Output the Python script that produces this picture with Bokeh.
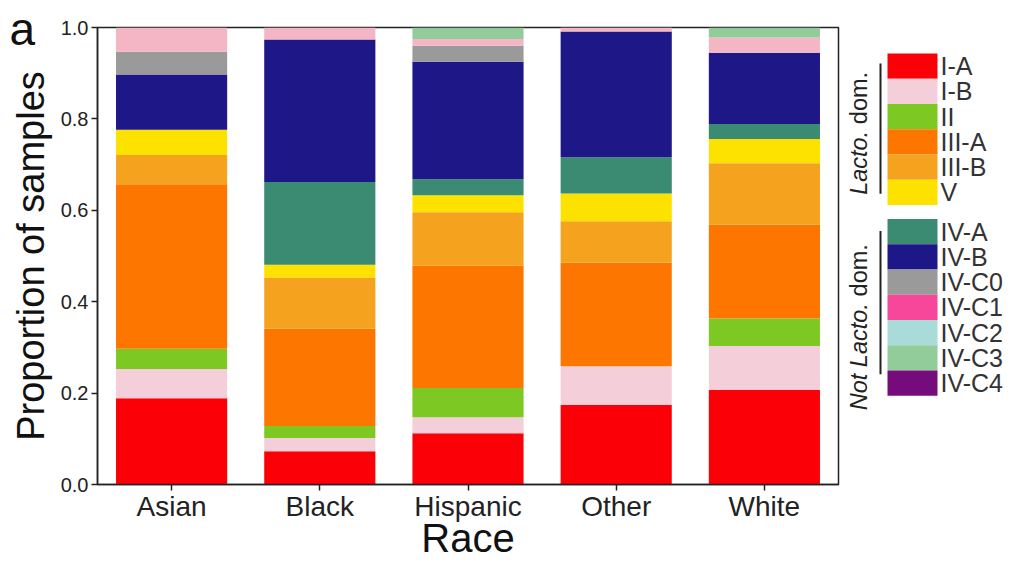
import math
from bokeh.plotting import figure
from bokeh.models import (ColumnDataSource, FactorRange, Range1d, FixedTicker,
                          NumeralTickFormatter, Title)
from bokeh.layouts import row
from bokeh.core.properties import value
from bokeh.embed import file_html
from bokeh.resources import INLINE

# ---------------- data ----------------
races = ["Asian", "Black", "Hispanic", "Other", "White"]
cst_types = ["I-A", "I-B", "II", "III-A", "III-B", "V",
             "IV-A", "IV-B", "IV-C0", "IV-C1", "IV-C2", "IV-C3", "IV-C4"]
lacto_types = ["I-A", "I-B", "II", "III-A", "III-B", "V"]
not_lacto_types = ["IV-A", "IV-B", "IV-C0", "IV-C1", "IV-C2", "IV-C3", "IV-C4"]
y_ticks = [0.0, 0.2, 0.4, 0.6, 0.8, 1.0]

I_A   = [0.189, 0.073, 0.112, 0.174, 0.207]
I_B   = [0.064, 0.029, 0.035, 0.085, 0.096]
II    = [0.044, 0.026, 0.064, 0.000, 0.060]
III_A = [0.360, 0.213, 0.268, 0.227, 0.206]
III_B = [0.064, 0.112, 0.117, 0.090, 0.134]
V     = [0.055, 0.028, 0.037, 0.061, 0.053]
IV_A  = [0.000, 0.181, 0.035, 0.079, 0.033]
IV_B  = [0.121, 0.312, 0.257, 0.275, 0.156]
IV_C0 = [0.050, 0.000, 0.035, 0.000, 0.000]
IV_C1 = [0.053, 0.026, 0.015, 0.009, 0.033]
IV_C2 = [0.000, 0.000, 0.000, 0.000, 0.000]
IV_C3 = [0.000, 0.000, 0.025, 0.000, 0.022]
IV_C4 = [0.000, 0.000, 0.000, 0.000, 0.000]

legend_colors = ["#fb0007", "#f4cfd9", "#7ec823", "#fd7600", "#f5a21f", "#fde200",
                 "#3b8a72", "#1d1787", "#9a9a9a", "#f7479a", "#a9dbd9", "#93cc9b", "#760c7c"]
bar_colors = list(legend_colors)
bar_colors[9] = "#f4b6c5"   # the IV-C1 segments appear as pale pink in the bars

data = {"race": races, "I-A": I_A, "I-B": I_B, "II": II, "III-A": III_A, "III-B": III_B,
        "V": V, "IV-A": IV_A, "IV-B": IV_B, "IV-C0": IV_C0, "IV-C1": IV_C1,
        "IV-C2": IV_C2, "IV-C3": IV_C3, "IV-C4": IV_C4}
src = ColumnDataSource(data)

FONT = value("Liberation Sans")

# ---------------- main chart ----------------
FRAME_TOP, FRAME_BOTTOM = 27, 483
MAIN_W, H = 842, 562
p = figure(x_range=FactorRange(factors=races, range_padding=0), y_range=Range1d(0, 1),
           width=MAIN_W, height=H, output_backend="svg", toolbar_location=None,
           min_border_left=97, min_border_right=4, min_border_top=FRAME_TOP, min_border_bottom=0)
p.vbar_stack(cst_types, x="race", width=0.75, source=src,
             fill_color=bar_colors, line_color=None)

p.xgrid.visible = False
p.ygrid.visible = False
p.outline_line_color = "#222222"
p.outline_line_width = 1.5
p.outline_line_alpha = 1.0

p.yaxis.ticker = FixedTicker(ticks=y_ticks)
p.yaxis.formatter = NumeralTickFormatter(format="0.0")
p.yaxis.axis_label = "Proportion of samples"
p.xaxis.axis_label = "Race"
for ax in (p.xaxis[0], p.yaxis[0]):
    ax.axis_line_color = "#222222"
    ax.axis_line_width = 1.5
    ax.major_tick_line_color = "#222222"
    ax.major_tick_line_width = 1.5
    ax.major_tick_out = 6
    ax.major_tick_in = 0
    ax.minor_tick_line_color = None
    ax.major_label_text_font = "Liberation Sans"
    ax.major_label_text_color = "#222222"
    ax.axis_label_text_font = "Liberation Sans"
    ax.axis_label_text_font_style = "normal"
    ax.axis_label_text_color = "#111111"
p.yaxis.major_label_standoff = 3
p.yaxis.major_label_text_font_size = "20px"
p.yaxis.axis_label_text_font_size = "38px"
p.yaxis.axis_label_standoff = 6
p.xaxis.major_label_standoff = 0
p.xaxis.major_label_text_font_size = "28px"
p.xaxis.axis_label_text_font_size = "40px"
p.xaxis.axis_label_standoff = -9

# panel letter "a" as a title shifted into the top-left corner
p.add_layout(Title(text="a", align="left", vertical_align="bottom", offset=-88, standoff=-54,
                   text_font="Liberation Sans", text_font_size="46px",
                   text_font_style="normal", text_color="#111111"), "above")

# ---------------- legend panel ----------------
LW = 175
FH = FRAME_BOTTOM - FRAME_TOP
leg = figure(width=LW, height=H, x_range=Range1d(0, LW), y_range=Range1d(0, FH),
             output_backend="svg", toolbar_location=None, x_axis_type=None, y_axis_type=None,
             min_border=0, outline_line_color=None)
leg.xgrid.visible = False
leg.ygrid.visible = False

def yy(page_y):
    return FRAME_BOTTOM - page_y

sw_h = 25.2
sw_x0, sw_x1 = 45, 95
group_tops = [53, 218]
for g, names in enumerate([lacto_types, not_lacto_types]):
    tops = [group_tops[g] + i * sw_h for i in range(len(names))]
    cols = [legend_colors[cst_types.index(n)] for n in names]
    leg.quad(left=sw_x0, right=sw_x1, top=[yy(t) for t in tops],
             bottom=[yy(t + sw_h) for t in tops], fill_color=cols, line_color=None)
    leg.text(x=sw_x1 + 3, y=[yy(t + sw_h / 2) for t in tops], text=names,
             text_font=FONT, text_font_size="25px", text_color="#333333",
             text_align="left", text_baseline="middle")

# group brackets
leg.segment(x0=[38, 38], x1=[38, 38], y0=[yy(63), yy(230)], y1=[yy(193), yy(373)],
            line_color="#222222", line_width=2)

# rotated group labels (mixed italic)
ADV = {"N": .722, "o": .556, "t": .278, " ": .278, "L": .556, "a": .556, "c": .5,
       ".": .278, "d": .556, "m": .833}
def width_px(s, size):
    return sum(ADV[ch] for ch in s) * size

FS = 23.5
def rotated(segments, start_page_y):
    y = yy(start_page_y)
    for txt, style in segments:
        leg.text(x=[16], y=[y], text=[txt], angle=math.pi / 2, text_font=FONT,
                 text_font_size=f"{FS}px", text_font_style=style, text_color="#222222",
                 text_align="left", text_baseline="middle")
        y += width_px(txt, FS) + width_px(" ", FS)

rotated([("Lacto.", "italic"), ("dom.", "normal")], 194)
rotated([("Not", "italic"), ("Lacto.", "italic"), ("dom.", "normal")], 409)

layout = row(p, leg)
open("out.html", "w").write(file_html(layout, INLINE))
